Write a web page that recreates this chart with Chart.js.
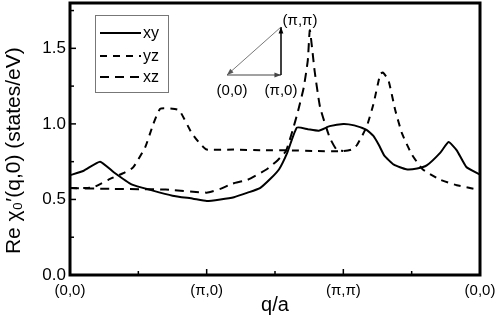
<!DOCTYPE html>
<html>
<head>
<meta charset="utf-8">
<script src="https://cdn.jsdelivr.net/npm/chart.js@4"></script>
<style>
  html, body { margin: 0; padding: 0; background: #fff; }
  #chi { display: block; }
</style>
</head>
<body>
<canvas id="chi" width="498" height="318"></canvas>
<script>
// path (0,0) -> (pi,0) -> (pi,pi) -> (0,0), one unit per segment
const qXY   = [0, 0.10, 0.22, 0.32, 0.45, 0.60, 0.75, 0.90, 1.00, 1.10, 1.20, 1.30, 1.39, 1.47, 1.53, 1.59, 1.66, 1.74, 1.82, 1.90, 2.00, 2.08, 2.17, 2.22, 2.26, 2.30, 2.37, 2.46, 2.54, 2.61, 2.71, 2.77, 2.83, 2.90, 3.00];
const chiXY = [0.66, 0.69, 0.75, 0.68, 0.60, 0.56, 0.525, 0.505, 0.49, 0.50, 0.515, 0.545, 0.575, 0.64, 0.70, 0.81, 0.975, 0.965, 0.955, 0.985, 1.0, 0.99, 0.96, 0.92, 0.86, 0.79, 0.73, 0.70, 0.705, 0.725, 0.81, 0.88, 0.825, 0.715, 0.665];

const qYZ   = [0, 0.10, 0.17, 0.28, 0.38, 0.46, 0.55, 0.61, 0.66, 0.75, 0.80, 0.89, 0.95, 1.00, 1.20, 1.40, 1.60, 1.80, 2.00];
const chiYZ = [0.575, 0.575, 0.58, 0.63, 0.67, 0.71, 0.845, 1.0, 1.1, 1.1, 1.09, 0.94, 0.87, 0.83, 0.83, 0.825, 0.825, 0.82, 0.82];

const qXZ   = [0, 0.30, 0.70, 1.00, 1.10, 1.19, 1.30, 1.44, 1.52, 1.58, 1.63, 1.67, 1.71, 1.74, 1.755, 1.79, 1.83, 1.90, 1.95, 2.00];
const chiXZ = [0.575, 0.57, 0.565, 0.545, 0.57, 0.605, 0.63, 0.70, 0.76, 0.82, 0.96, 1.09, 1.24, 1.42, 1.62, 1.35, 1.11, 0.91, 0.83, 0.82];

// (pi,pi) -> (0,0): yz and xz coincide here
const qDiag   = [2.00, 2.06, 2.10, 2.17, 2.22, 2.27, 2.29, 2.33, 2.38, 2.43, 2.50, 2.58, 2.71, 2.83, 2.96, 3.00];
const chiDiag = [0.82, 0.83, 0.86, 0.98, 1.13, 1.33, 1.34, 1.29, 1.09, 0.935, 0.80, 0.70, 0.63, 0.594, 0.57, 0.565];

const xTicks = [0, 1, 2, 3];
const xTickLabels = ['(0,0)', '(π,0)', '(π,π)', '(0,0)'];
const xMinor = [0.5, 1.5, 2.5];
const yTicks = [0, 0.5, 1.0, 1.5];
const yMinor = [0.25, 0.75, 1.25, 1.75];

const FONT = "'Liberation Sans', Arial, sans-serif";

function pts(xs, ys) {
    return xs.map((x, i) => ({ x: x, y: ys[i] }));
}

// box + inward ticks
const frame = {
    id: 'frame',
    afterDatasetsDraw(chart) {
        const { ctx, chartArea: a, scales: { x, y } } = chart;
        ctx.save();
        ctx.strokeStyle = '#000';
        ctx.lineWidth = 1.5;
        const tick = (x1, y1, x2, y2) => { ctx.beginPath(); ctx.moveTo(x1, y1); ctx.lineTo(x2, y2); ctx.stroke(); };
        xTicks.forEach(v => { const p = x.getPixelForValue(v); tick(p, a.bottom, p, a.bottom - 6); });
        xMinor.forEach(v => { const p = x.getPixelForValue(v); tick(p, a.bottom, p, a.bottom - 4); });
        yTicks.forEach(v => { const p = y.getPixelForValue(v); tick(a.left, p, a.left + 6, p); });
        yMinor.forEach(v => { const p = y.getPixelForValue(v); tick(a.left, p, a.left + 4, p); });
        ctx.lineWidth = 3;
        ctx.strokeRect(a.left, a.top, a.right - a.left, a.bottom - a.top);
        ctx.restore();
    }
};

// legend box in upper left
const boxLegend = {
    id: 'boxLegend',
    afterDraw(chart) {
        const { ctx } = chart;
        ctx.save();
        ctx.strokeStyle = '#777';
        ctx.lineWidth = 1;
        ctx.strokeRect(95.5, 15.5, 73, 77);
        ctx.font = '16px ' + FONT;
        ctx.fillStyle = '#000';
        ctx.textBaseline = 'middle';
        const rows = [33, 56, 77];
        chart.data.datasets.forEach((ds, i) => {
            ctx.strokeStyle = '#000';
            ctx.lineWidth = 2;
            ctx.setLineDash(ds.borderDash || []);
            ctx.beginPath();
            ctx.moveTo(100, rows[i]);
            ctx.lineTo(141, rows[i]);
            ctx.stroke();
            ctx.setLineDash([]);
            ctx.fillText(ds.label, 143, rows[i] + 1);
        });
        ctx.restore();
    }
};

// small path sketch in the Brillouin zone
const inset = {
    id: 'inset',
    afterDraw(chart) {
        const { ctx } = chart;
        const g = [227, 75], xp = [281, 75], mp = [281, 27];
        const arrow = (from, to, color, w) => {
            ctx.strokeStyle = color;
            ctx.fillStyle = color;
            ctx.lineWidth = w;
            ctx.beginPath(); ctx.moveTo(from[0], from[1]); ctx.lineTo(to[0], to[1]); ctx.stroke();
            const ang = Math.atan2(to[1] - from[1], to[0] - from[0]);
            ctx.beginPath();
            ctx.moveTo(to[0], to[1]);
            ctx.lineTo(to[0] - 7 * Math.cos(ang - 0.35), to[1] - 7 * Math.sin(ang - 0.35));
            ctx.lineTo(to[0] - 7 * Math.cos(ang + 0.35), to[1] - 7 * Math.sin(ang + 0.35));
            ctx.closePath();
            ctx.fill();
        };
        ctx.save();
        arrow(g, xp, '#444', 1);
        arrow(xp, mp, '#000', 1.5);
        arrow(mp, g, '#555', 0.8);
        ctx.fillStyle = '#000';
        ctx.font = '15px ' + FONT;
        ctx.textAlign = 'center';
        ctx.textBaseline = 'middle';
        ctx.fillText('(0,0)', 232, 91);
        ctx.fillText('(π,0)', 281, 91);
        ctx.fillText('(π,π)', 300, 21);
        ctx.restore();
    }
};

new Chart(document.getElementById('chi'), {
    type: 'line',
    data: {
        datasets: [
            { label: 'xy', data: pts(qXY, chiXY), borderColor: '#000', borderWidth: 2 },
            { label: 'yz', data: pts(qYZ.concat(qDiag.slice(1)), chiYZ.concat(chiDiag.slice(1))), borderColor: '#000', borderWidth: 2, borderDash: [7, 6] },
            { label: 'xz', data: pts(qXZ, chiXZ), borderColor: '#000', borderWidth: 2, borderDash: [9, 6] }
        ]
    },
    options: {
        responsive: false,
        animation: false,
        devicePixelRatio: 1,
        elements: { point: { radius: 0 }, line: { tension: 0.15, fill: false } },
        layout: { padding: { top: 3, right: 18, left: 0, bottom: 0 } },
        plugins: { legend: { display: false }, tooltip: { enabled: false } },
        scales: {
            x: {
                type: 'linear', min: 0, max: 3,
                grid: { display: false, drawTicks: false }, border: { display: false },
                afterBuildTicks: s => { s.ticks = xTicks.map(v => ({ value: v })); },
                afterFit: s => { s.height = 43; s.paddingLeft = 0; s.paddingRight = 0; },
                ticks: { color: '#000', padding: 7, maxRotation: 0, font: { family: FONT, size: 15 }, callback: v => xTickLabels[xTicks.indexOf(v)] },
                title: { display: true, text: 'q/a', color: '#000', font: { family: FONT, size: 20 }, padding: { top: 0, bottom: 1 } }
            },
            y: {
                min: 0, max: 1.8,
                grid: { display: false, drawTicks: false }, border: { display: false },
                afterBuildTicks: s => { s.ticks = yTicks.map(v => ({ value: v })); },
                afterFit: s => { s.width = 70; s.paddingTop = 0; s.paddingBottom = 0; },
                ticks: { color: '#000', padding: 4, font: { family: FONT, size: 17 }, callback: v => v.toFixed(1) },
                title: { display: true, text: 'Re χ₀′(q,0) (states/eV)    ', color: '#000', font: { family: FONT, size: 21 }, padding: { top: 2, bottom: 2 } }
            }
        }
    },
    plugins: [frame, boxLegend, inset]
});
</script>
</body>
</html>
